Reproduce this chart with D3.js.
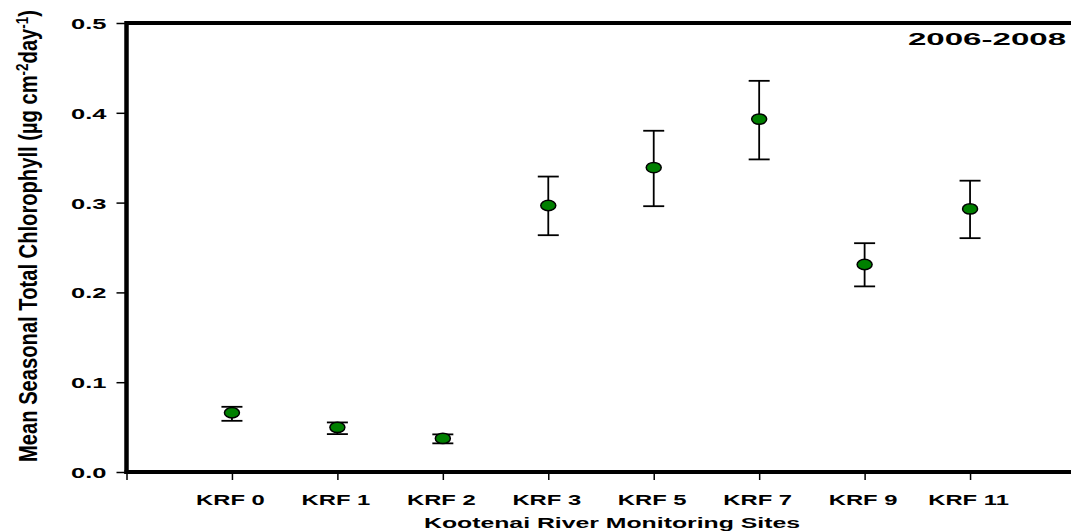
<!DOCTYPE html>
<html>
<head>
<meta charset="utf-8">
<script src="https://cdn.jsdelivr.net/npm/d3@7"></script>
<style>
  body { margin: 0; background: #fff; }
  text { font-family: "Liberation Sans", Arial, sans-serif; font-weight: bold; fill: #000; }
</style>
</head>
<body>
<div id="chart"></div>
<script>
// data
var sites = ["KRF 0", "KRF 1", "KRF 2", "KRF 3", "KRF 5", "KRF 7", "KRF 9", "KRF 11"];
var means = [0.066, 0.0497, 0.0374, 0.2967, 0.339, 0.393, 0.2311, 0.293];
var upper = [0.0726, 0.0552, 0.0419, 0.329, 0.380, 0.4356, 0.2548, 0.3244];
var lower = [0.057, 0.0422, 0.0319, 0.2637, 0.296, 0.3481, 0.2067, 0.2604];
var yTicks = [0, 0.1, 0.2, 0.3, 0.4, 0.5];
var period = "2006-2008";

var W = 1071, H = 531;
var stretch = 1.7; // picture is wide-stretched

var svg = d3.select("#chart").append("svg")
  .attr("width", W).attr("height", H);

var x = d3.scaleLinear().domain([0, sites.length + 1]).range([126.5, 1075.5]);
var y = d3.scaleLinear().domain([0, 0.5]).range([472, 23]);

// frame top line
svg.append("line")
  .attr("x1", x(0)).attr("x2", x(sites.length + 1))
  .attr("y1", y(0.5)).attr("y2", y(0.5))
  .attr("stroke", "#000").attr("stroke-width", 4);

// Y axis
var yAxis = svg.append("g")
  .attr("transform", "translate(" + x(0) + ",0)")
  .call(d3.axisLeft(y).tickValues(yTicks).tickFormat(d3.format(".1f")).tickSize(10).tickPadding(0));
yAxis.select(".domain").remove();
yAxis.selectAll(".tick line").attr("stroke", "#000").attr("stroke-width", 1.5);
yAxis.selectAll(".tick text").remove();
yAxis.selectAll(".tick").append("text")
  .attr("transform", "translate(-20,5.5) scale(" + stretch + ",1)")
  .attr("text-anchor", "end")
  .style("font-size", "15px")
  .text(function(d) { return d3.format(".1f")(d); });

svg.append("line")
  .attr("x1", x(0)).attr("x2", x(0))
  .attr("y1", y(0.5) - 2).attr("y2", y(0) + 2)
  .attr("stroke", "#000").attr("stroke-width", 4.5);

// X axis
var xAxis = svg.append("g")
  .attr("transform", "translate(0," + y(0) + ")")
  .call(d3.axisBottom(x).tickValues(d3.range(0, sites.length + 1)).tickSize(8).tickFormat(""));
xAxis.select(".domain").remove();
xAxis.selectAll(".tick line").attr("stroke", "#000").attr("stroke-width", 1.5);
xAxis.selectAll(".tick text").remove();
xAxis.selectAll(".tick").filter(function(d) { return d > 0; }).append("text")
  .attr("transform", "translate(-2,33) scale(" + stretch + ",1)")
  .attr("text-anchor", "middle")
  .style("font-size", "14px")
  .text(function(d) { return sites[d - 1]; });

svg.append("line")
  .attr("x1", x(0) - 2).attr("x2", x(sites.length + 1))
  .attr("y1", y(0)).attr("y2", y(0))
  .attr("stroke", "#000").attr("stroke-width", 4);

// axis titles
svg.append("text")
  .attr("x", 612).attr("y", 528)
  .attr("text-anchor", "middle")
  .attr("textLength", 376).attr("lengthAdjust", "spacingAndGlyphs")
  .style("font-size", "14px")
  .text("Kootenai River Monitoring Sites");

var ylab = svg.append("text")
  .attr("transform", "translate(37,236) rotate(-90) scale(1,1.45)")
  .attr("text-anchor", "middle")
  .attr("textLength", 452).attr("lengthAdjust", "spacingAndGlyphs")
  .style("font-size", "18px");
ylab.append("tspan").text("Mean Seasonal Total Chlorophyll (µg cm");
ylab.append("tspan").attr("dy", -6).style("font-size", "12px").text("-2");
ylab.append("tspan").attr("dy", 6).text("day");
ylab.append("tspan").attr("dy", -6).style("font-size", "12px").text("-1");
ylab.append("tspan").attr("dy", 6).text(")");

// period label
svg.append("text")
  .attr("x", 1066).attr("y", 45)
  .attr("text-anchor", "end")
  .attr("textLength", 158).attr("lengthAdjust", "spacingAndGlyphs")
  .style("font-size", "16px")
  .text(period);

// error bars and points
var pts = svg.append("g").selectAll("g")
  .data(sites).join("g");

pts.append("line")
  .attr("x1", function(d, i) { return x(i + 1); })
  .attr("x2", function(d, i) { return x(i + 1); })
  .attr("y1", function(d, i) { return y(upper[i]); })
  .attr("y2", function(d, i) { return y(lower[i]); })
  .attr("stroke", "#000").attr("stroke-width", 1.8);

[upper, lower].forEach(function(arr) {
  pts.append("line")
    .attr("x1", function(d, i) { return x(i + 1) - 10.5; })
    .attr("x2", function(d, i) { return x(i + 1) + 10.5; })
    .attr("y1", function(d, i) { return y(arr[i]); })
    .attr("y2", function(d, i) { return y(arr[i]); })
    .attr("stroke", "#000").attr("stroke-width", 1.8);
});

pts.append("ellipse")
  .attr("cx", function(d, i) { return x(i + 1); })
  .attr("cy", function(d, i) { return y(means[i]); })
  .attr("rx", 7.5).attr("ry", 5.2)
  .attr("fill", "#008000")
  .attr("stroke", "#000").attr("stroke-width", 1.5);
</script>
</body>
</html>
